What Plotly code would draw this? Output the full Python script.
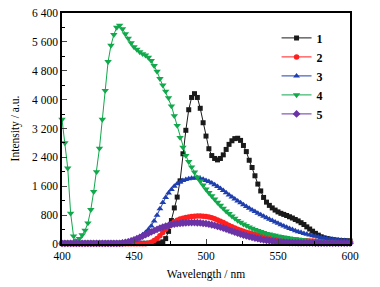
import plotly.graph_objects as go

wavelength = list(range(400, 602, 2))

s1 = [20, 20, 20, 20, 20, 20, 20, 20, 20, 20, 20, 20, 20, 20, 20, 20, 20,
      20, 20, 20, 20, 20, 20, 20, 20, 20, 20, 20, 20, 20, 20, 20, 20, 20,
      30, 60, 150, 350, 650, 1000, 1300, 1750, 2500, 3150, 3720, 4060, 4165, 4060,
      3760, 3360, 2990, 2640, 2450, 2370, 2330, 2370, 2470, 2620, 2760, 2860, 2920,
      2930, 2870, 2730, 2560, 2320, 2120, 1890, 1660, 1470, 1290, 1160, 1070, 1000,
      940, 890, 850, 820, 790, 755, 720, 680, 640, 590, 540, 475, 415, 355, 295, 245,
      200, 170, 150, 132, 118, 108, 100, 94, 90, 86, 83]

s2 = [5, 5, 5, 5, 5, 5, 5, 5, 5, 5, 5, 5, 5, 5, 5, 5, 5, 5, 5, 5, 5, 5, 5, 5, 5,
      5, 5, 5, 5, 5,
      20, 50, 100, 155, 230, 320, 410, 490, 560, 615, 655, 690, 715, 735, 750, 762,
      770, 775, 775, 770, 760, 745, 725, 700, 668, 632, 595, 555, 515, 478, 442, 410,
      380, 352, 327, 304, 283, 264, 246, 230, 215, 201, 189, 177, 166, 156, 147, 138,
      130, 123, 116, 110, 104, 98, 93, 88, 84, 80, 76, 72, 69, 66, 63, 60, 58, 56, 54,
      52, 50, 48, 46]

s3 = [20, 20, 20, 20, 20, 20, 20, 20, 20, 20, 20, 20, 20, 20, 20, 20, 20, 20, 20, 20,
      30, 40, 55, 75, 100, 120, 155, 200, 255, 320, 400, 500, 640, 800, 980, 1150,
      1290, 1410, 1510, 1600, 1670, 1720, 1760, 1790, 1810, 1822, 1828, 1826, 1816,
      1792, 1762, 1730, 1690, 1645, 1595, 1540, 1480, 1420, 1360, 1300, 1245, 1190,
      1140, 1090, 1040, 990, 945, 900, 855, 810, 768, 728, 688, 648, 610, 572, 536,
      500, 466, 432, 400, 370, 342, 316, 292, 270, 249, 230, 212, 196, 181, 167, 154,
      142, 131, 121, 112, 104, 97, 90, 84]

s4 = [3450, 2800, 2100, 850, 220, 90, 150, 250, 380, 580, 950, 1450, 2000, 2650,
      3450, 4250, 5050, 5500, 5800, 6000, 6060, 5960, 5820, 5700, 5570, 5460, 5390,
      5320, 5270, 5230, 5170, 5080, 4940, 4780, 4580, 4400, 4230, 4050, 3820, 3550,
      3280, 2950, 2680, 2450, 2280, 2130, 1990, 1850, 1740, 1630, 1520, 1420, 1330,
      1240, 1150, 1070, 990, 910, 840, 770, 710, 650, 600, 550, 510, 470, 430, 400,
      370, 340, 315, 290, 270, 255, 240, 220, 205, 190, 175, 165, 150, 140, 130, 120,
      110, 100, 95, 85, 80, 75, 70, 65, 60, 55, 50, 45, 40, 38, 35, 32, 30]

s5 = [18, 18, 18, 18, 18, 18, 18, 18, 18, 18, 18, 18, 18, 18, 18, 18, 18, 18, 18, 18, 18,
      28, 42, 60, 85, 115, 148, 183, 220, 258, 296, 334, 370, 405, 438, 468, 494, 516,
      535, 551, 564, 574, 582, 588, 592, 594, 593, 589, 583, 574, 563, 549, 533, 514,
      492, 468, 443, 416, 385, 356, 328, 300, 274, 250, 227, 205, 185, 166, 148, 132,
      117, 104, 92, 81, 72, 64, 57, 51, 46, 42, 39, 37, 35, 33, 32, 31,
      30, 29, 28, 28, 27, 26, 26, 25, 25, 24, 24, 23, 23, 22, 22]

series_names = ["1", "2", "3", "4", "5"]
y_tickvals = [0, 800, 1600, 2400, 3200, 4000, 4800, 5600, 6400]
y_ticktext = ["0", "800", "1 600", "2 400", "3 200", "4 000", "4 800", "5 600", "6 400"]
x_tickvals = [400, 450, 500, 550, 600]

styles = [
    dict(color="#1a1a1a", symbol="square", size=5),
    dict(color="#ff1f1f", symbol="circle", size=5.5),
    dict(color="#1f3fae", symbol="triangle-up", size=6),
    dict(color="#12a84c", symbol="triangle-down", size=6.5),
    dict(color="#6a34a6", symbol="diamond", size=6),
]

fig = go.Figure()
for name, ys, st in zip(series_names, [s1, s2, s3, s4, s5], styles):
    fig.add_trace(go.Scatter(
        x=wavelength, y=ys, mode="lines+markers", name="<b>%s</b>" % name,
        line=dict(color=st["color"], width=1),
        marker=dict(color=st["color"], symbol=st["symbol"], size=st["size"],
                    line=dict(width=0)),
        cliponaxis=False,
    ))

fig.update_layout(
    width=380, height=287,
    margin=dict(l=54, r=38, t=5, b=51),
    paper_bgcolor="white", plot_bgcolor="white",
    font=dict(family="Liberation Serif", size=11.5, color="black"),
    legend=dict(x=0.745, y=0.955, xanchor="left", yanchor="top",
                bgcolor="rgba(0,0,0,0)", font=dict(size=12, family="Liberation Serif"),
                itemwidth=30, tracegroupgap=0),
)
fig.update_xaxes(
    range=[400, 600], tickvals=x_tickvals, ticks="inside", ticklen=5, tickwidth=1,
    showline=True, linecolor="black", linewidth=1.5, mirror=True,
    showgrid=False, zeroline=False, automargin=False, ticklabeloverflow="allow",
    minor=dict(ticks="inside", ticklen=3, dtick=25, tick0=400, tickcolor="black"),
    title=dict(text="Wavelength / nm", standoff=9, font=dict(size=11.5)),
)
fig.update_yaxes(
    range=[0, 6400], tickvals=y_tickvals, ticktext=y_ticktext, ticks="inside",
    ticklen=5, tickwidth=1,
    showline=True, linecolor="black", linewidth=1.5, mirror=True,
    showgrid=False, zeroline=False, automargin=False, ticklabeloverflow="allow",
    minor=dict(ticks="inside", ticklen=3, dtick=400, tick0=0, tickcolor="black"),
    title=dict(text="Intensity / a.u.", standoff=10, font=dict(size=11.5)),
)

fig.write_html("out.html")
